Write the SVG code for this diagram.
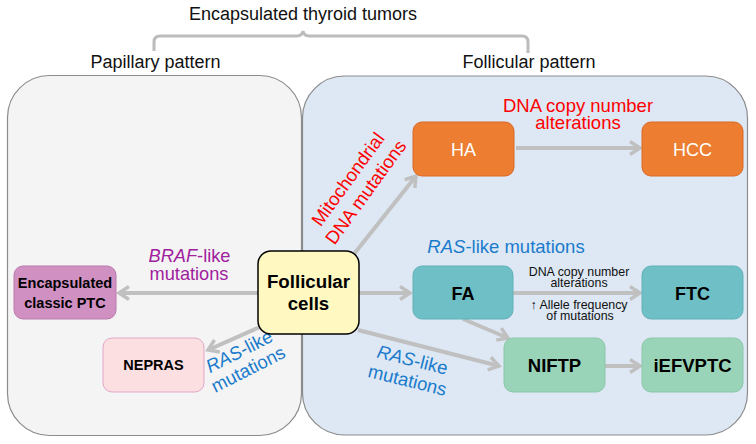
<svg xmlns="http://www.w3.org/2000/svg" width="756" height="444" viewBox="0 0 756 444">
<style>
text{font-family:"Liberation Sans",Arial,sans-serif;}
.hdr{font-size:18px;fill:#111;text-anchor:middle}
.panel{stroke:#8c8c8c;stroke-width:1.2}
.conn{stroke:#c0c0c0;stroke-width:4;fill:none}
.node{stroke-width:1}
.bl{font-weight:bold;fill:#000;text-anchor:middle}
.wt{fill:#fff;text-anchor:middle;font-size:18px}
.red{fill:#ff0000;font-size:18.5px;text-anchor:middle}
.blue{fill:#1b7bcc;font-size:18.5px;text-anchor:middle}
.purp{fill:#a0209e;font-size:18.2px;text-anchor:middle}
.sm{fill:#111;font-size:12.4px;text-anchor:middle}
</style>
<defs>
<marker id="ah" markerUnits="userSpaceOnUse" markerWidth="18" markerHeight="18" refX="13" refY="9" orient="auto">
<path d="M3,2.5 L13,9 L3,15.5" fill="none" stroke="#c0c0c0" stroke-width="3.5"/>
</marker>
</defs>
<rect width="756" height="444" fill="#ffffff"/>
<text class="hdr" x="303" y="20">Encapsulated thyroid tumors</text>
<path d="M154,51 L154,42 Q154,36 160,36 L297,36 Q302,36 303,31 Q304,36 309,36 L522,36 Q528,36 528,42 L528,53" fill="none" stroke="#bcbcbc" stroke-width="3"/>
<text class="hdr" x="155.5" y="68">Papillary pattern</text>
<text class="hdr" x="529" y="68">Follicular pattern</text>
<g id="panel-papillary">
<rect class="panel" x="7.5" y="75.5" width="294" height="360" rx="42" fill="#f4f4f4"/>
</g>
<g id="panel-follicular">
<rect class="panel" x="302.5" y="76" width="445" height="359" rx="42" fill="#dde8f4"/>
</g>
<g id="connectors">
<line class="conn" x1="258" y1="293" x2="119" y2="293" marker-end="url(#ah)"/>
<line class="conn" x1="260" y1="327" x2="208" y2="350" marker-end="url(#ah)"/>
<line class="conn" x1="359" y1="293" x2="410" y2="293" marker-end="url(#ah)"/>
<line class="conn" x1="354" y1="254" x2="416" y2="176" marker-end="url(#ah)"/>
<line class="conn" x1="358" y1="330" x2="499" y2="366" marker-end="url(#ah)"/>
<line class="conn" x1="463" y1="319" x2="508" y2="338" marker-end="url(#ah)"/>
<line class="conn" x1="513" y1="293" x2="640" y2="293" marker-end="url(#ah)"/>
<line class="conn" x1="605" y1="366" x2="640" y2="366" marker-end="url(#ah)"/>
<line class="conn" x1="516" y1="148" x2="640" y2="148" marker-end="url(#ah)"/>
</g>
<g id="labels">
<text class="purp" x="189.5" y="262"><tspan font-style="italic">BRAF</tspan>-like</text>
<text class="purp" x="189" y="279.5">mutations</text>
<g transform="translate(242,357) rotate(-27)">
<text class="blue" x="0" y="0"><tspan font-style="italic">RAS</tspan>-like</text>
<text class="blue" x="0" y="20">mutations</text>
</g>
<text class="blue" x="506" y="253"><tspan font-style="italic">RAS</tspan>-like mutations</text>
<g transform="translate(411,366) rotate(14)">
<text class="blue" x="0" y="0"><tspan font-style="italic">RAS</tspan>-like</text>
<text class="blue" x="0" y="21">mutations</text>
</g>
<text class="red" x="578" y="112">DNA copy number</text>
<text class="red" x="578" y="129">alterations</text>
<g transform="translate(353,183) rotate(-54)">
<text class="red" x="0" y="0">Mitochondrial</text>
<text class="red" x="0" y="22">DNA mutations</text>
</g>
<text class="sm" x="579" y="275.5">DNA copy number</text>
<text class="sm" x="579" y="286.5">alterations</text>
<text class="sm" x="579" y="309">↑ Allele frequency</text>
<text class="sm" x="580" y="320">of mutations</text>
</g>
<g id="node-follicular-cells">
<rect x="258" y="251" width="101" height="83" rx="13" fill="#fff8c0" stroke="#000" stroke-width="1.5"/>
<text class="bl" x="308.5" y="288" font-size="18.7">Follicular</text>
<text class="bl" x="308.5" y="310" font-size="18.7">cells</text>
</g>
<g id="node-ptc">
<rect class="node" x="14" y="266" width="102" height="53" rx="9" fill="#d091c2" stroke="#b97aab"/>
<text class="bl" x="65" y="288" font-size="14.5">Encapsulated</text>
<text class="bl" x="65" y="308" font-size="14.5">classic PTC</text>
</g>
<g id="node-nepras">
<rect class="node" x="103" y="338" width="101" height="54" rx="9" fill="#fbdfe1" stroke="#e2a6c9"/>
<text class="bl" x="153.5" y="370" font-size="14.5">NEPRAS</text>
</g>
<g id="node-ha">
<rect class="node" x="413" y="122" width="101" height="54" rx="9" fill="#ed7d31" stroke="#d86a28"/>
<text class="wt" x="463.5" y="156">HA</text>
</g>
<g id="node-hcc">
<rect class="node" x="642" y="122" width="101" height="54" rx="9" fill="#ed7d31" stroke="#d86a28"/>
<text class="wt" x="692.5" y="156">HCC</text>
</g>
<g id="node-fa">
<rect class="node" x="413" y="266" width="100" height="53" rx="9" fill="#6fbfc7" stroke="#62b1b9"/>
<text class="bl" x="463" y="300" font-size="18">FA</text>
</g>
<g id="node-ftc">
<rect class="node" x="642" y="266" width="101" height="53" rx="9" fill="#6fbfc7" stroke="#62b1b9"/>
<text class="bl" x="692.5" y="300" font-size="18">FTC</text>
</g>
<g id="node-niftp">
<rect class="node" x="504" y="338" width="101" height="54" rx="9" fill="#9ad4b8" stroke="#8cc7ab"/>
<text class="bl" x="554.5" y="371.5" font-size="18.5">NIFTP</text>
</g>
<g id="node-iefvptc">
<rect class="node" x="642" y="338" width="101" height="54" rx="9" fill="#9ad4b8" stroke="#8cc7ab"/>
<text class="bl" x="692.5" y="371.5" font-size="18.5">iEFVPTC</text>
</g>
</svg>
